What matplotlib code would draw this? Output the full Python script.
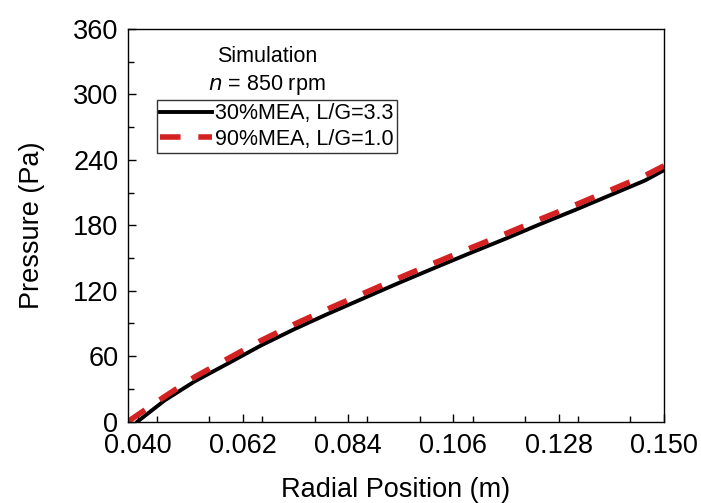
import matplotlib
matplotlib.use("Agg")
import matplotlib.pyplot as plt
from matplotlib.ticker import MultipleLocator

plt.rcParams['font.family'] = ['Liberation Sans', 'DejaVu Sans']

"""data read from the figure: """
x_30mea = [0.040, 0.0457, 0.0520, 0.0590, 0.0659, 0.0729, 0.0799, 0.0872, 0.0948,
           0.1021, 0.1095, 0.1168, 0.1241, 0.1314, 0.1387, 0.1460, 0.150]
p_30mea = [0, 19.5, 37, 53.5, 70, 85, 99, 113, 127.5,
           141, 154.5, 167.5, 181, 194, 207.5, 221, 230.5]

x_90mea = [0.038, 0.0457, 0.0520, 0.0590, 0.0659, 0.0729, 0.0799, 0.0872, 0.0948,
           0.1021, 0.1095, 0.1168, 0.1241, 0.1314, 0.1387, 0.1460, 0.150]
p_90mea = [0, 23, 41, 58, 74.5, 89.5, 103.5, 117.5, 132,
           145.5, 159, 172, 185.5, 198.5, 212, 225.5, 234.5]

labels = ["30%MEA, L/G=3.3", "90%MEA, L/G=1.0"]
x_ticks = [0.040, 0.062, 0.084, 0.106, 0.128, 0.150]
y_ticks = [0, 60, 120, 180, 240, 300, 360]

"""plotting graph: """
fig = plt.figure(figsize=(7.01, 5.03), dpi=100)
ax = fig.add_axes([0.1826, 0.162, 0.7646, 0.7803])

ax.plot(x_30mea, p_30mea, color="black", lw=2.8, label=labels[0])
ax.plot(x_90mea, p_90mea, color="#D42222", lw=4.0, dashes=(3.7, 3.2), label=labels[1])

ax.set_xlim(0.038, 0.150)
ax.set_ylim(0, 360)
ax.set_xticks(x_ticks)
ax.set_xticklabels(["%.3f" % v for v in x_ticks])
ax.set_yticks(y_ticks)
ax.xaxis.set_minor_locator(MultipleLocator(0.011))
ax.yaxis.set_minor_locator(MultipleLocator(30))
ax.tick_params(which="both", direction="in", top=False, right=False, labelsize=19.5)
ax.tick_params(which="major", length=6, width=1, pad=7)
ax.tick_params(axis="x", which="major", pad=8)
ax.tick_params(which="minor", length=4, width=1)
for s in ax.spines.values():
    s.set_linewidth(1)

ax.set_xlabel("Radial Position (m)", fontsize=19.5, labelpad=13)
ax.set_ylabel("Pressure (Pa)", fontsize=19.5, labelpad=20)

ax.text(0.259, 0.931, "Simulation", transform=ax.transAxes, ha="center", va="center", fontsize=15.5)
ax.text(0.259, 0.858, "$\\it{n}$ = 850 rpm", transform=ax.transAxes, ha="center", va="center", fontsize=15.5)

leg = ax.legend(loc="upper left", bbox_to_anchor=(0.054, 0.819), fontsize=15.5, frameon=True,
                fancybox=False, edgecolor="black", handlelength=2.4, handletextpad=0.15,
                borderpad=0.15, labelspacing=0.2, borderaxespad=0)
leg.get_frame().set_linewidth(1)

fig.savefig("out.png", dpi=100)
